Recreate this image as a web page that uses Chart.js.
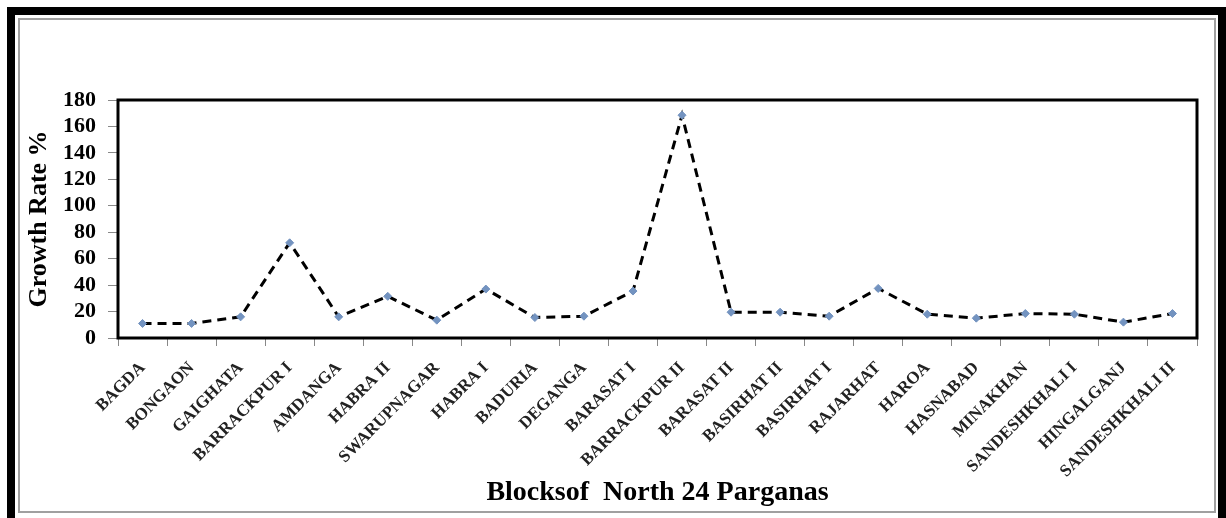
<!DOCTYPE html>
<html>
<head>
<meta charset="utf-8">
<script src="https://cdn.jsdelivr.net/npm/chart.js@4/dist/chart.umd.min.js"></script>
<style>
html,body{margin:0;padding:0;background:#fff;}
#wrap{position:relative;width:1226px;height:518px;}
</style>
</head>
<body>
<div id="wrap"><canvas id="c" width="1226" height="518"></canvas></div>
<script>
const blocks = ["BAGDA","BONGAON","GAIGHATA","BARRACKPUR I","AMDANGA","HABRA II","SWARUPNAGAR","HABRA I","BADURIA","DEGANGA","BARASAT I","BARRACKPUR II","BARASAT II","BASIRHAT II","BASIRHAT I","RAJARHAT","HAROA","HASNABAD","MINAKHAN","SANDESHKHALI I","HINGALGANJ","SANDESHKHALI II"];
const growthRate = [11, 11, 16, 72, 16, 31.5, 13.5, 37, 15.5, 16.5, 35.5, 168.5, 19.5, 19.5, 16.5, 37.5, 18, 15, 18.5, 18, 12, 18.5];
const yTicks = [0,20,40,60,80,100,120,140,160,180];

const frame = {
  id:'frame',
  beforeDraw(chart){
    const ctx = chart.ctx;
    ctx.save();
    ctx.fillStyle = '#fff';
    ctx.fillRect(0,0,1226,518);
    ctx.fillStyle = '#000';
    ctx.fillRect(7,7,1219,8);
    ctx.fillRect(7,7,8,511);
    ctx.fillRect(1218,7,8,511);
    ctx.strokeStyle = '#a0a0a0';
    ctx.lineWidth = 2;
    ctx.strokeRect(19,19,1196,493);
    ctx.restore();
  },
  afterDatasetsDraw(chart){
    const a = chart.chartArea, ctx = chart.ctx;
    ctx.save();
    ctx.strokeStyle = '#000';
    ctx.lineWidth = 3;
    ctx.strokeRect(a.left, a.top, a.right - a.left, a.bottom - a.top);
    ctx.restore();
  }
};

new Chart(document.getElementById('c'), {
  type: 'line',
  data: {
    labels: blocks,
    datasets: [{
      data: growthRate,
      borderColor: '#000',
      borderWidth: 3,
      borderDash: [9,6],
      tension: 0,
      fill: false,
      pointStyle: 'rectRot',
      pointRadius: 4,
      pointBackgroundColor: '#7393c0',
      pointBorderColor: '#7393c0',
      pointBorderWidth: 1
    }]
  },
  options: {
    responsive: false,
    animation: false,
    layout: { padding: { left: 20, top: 100, right: 29, bottom: 0 } },
    plugins: { legend: { display: false }, tooltip: { enabled: false } },
    scales: {
      x: {
        offset: true,
        grid: { offset: true, drawOnChartArea: false, color: '#888', tickLength: 8, tickWidth: 1 },
        border: { display: false },
        ticks: {
          autoSkip: false, maxRotation: 45, minRotation: 45, padding: 12,
          color: '#222',
          font: { family: 'Liberation Serif', weight: 'bold', size: 17 }
        },
        title: {
          display: true, text: 'Blocksof  North 24 Parganas', color: '#000',
          font: { family: 'Liberation Serif', weight: 'bold', size: 28 },
          padding: { top: 0, bottom: 8 }
        },
        afterFit(s){ s.height = 180; }
      },
      y: {
        min: 0, max: 180,
        afterBuildTicks(s){ s.ticks = yTicks.map(v => ({ value: v })); },
        grid: { drawOnChartArea: false, color: '#888', tickLength: 10, tickWidth: 1 },
        border: { display: false },
        ticks: {
          autoSkip: false, padding: 12, color: '#000',
          font: { family: 'Liberation Serif', weight: 'bold', size: 22 }
        },
        title: {
          display: true, text: 'Growth Rate %', color: '#000',
          font: { family: 'Liberation Serif', weight: 'bold', size: 26 },
          padding: { top: 4, bottom: 0 }
        },
        afterFit(s){ s.width = 98; }
      }
    }
  },
  plugins: [frame]
});
</script>
</body>
</html>
